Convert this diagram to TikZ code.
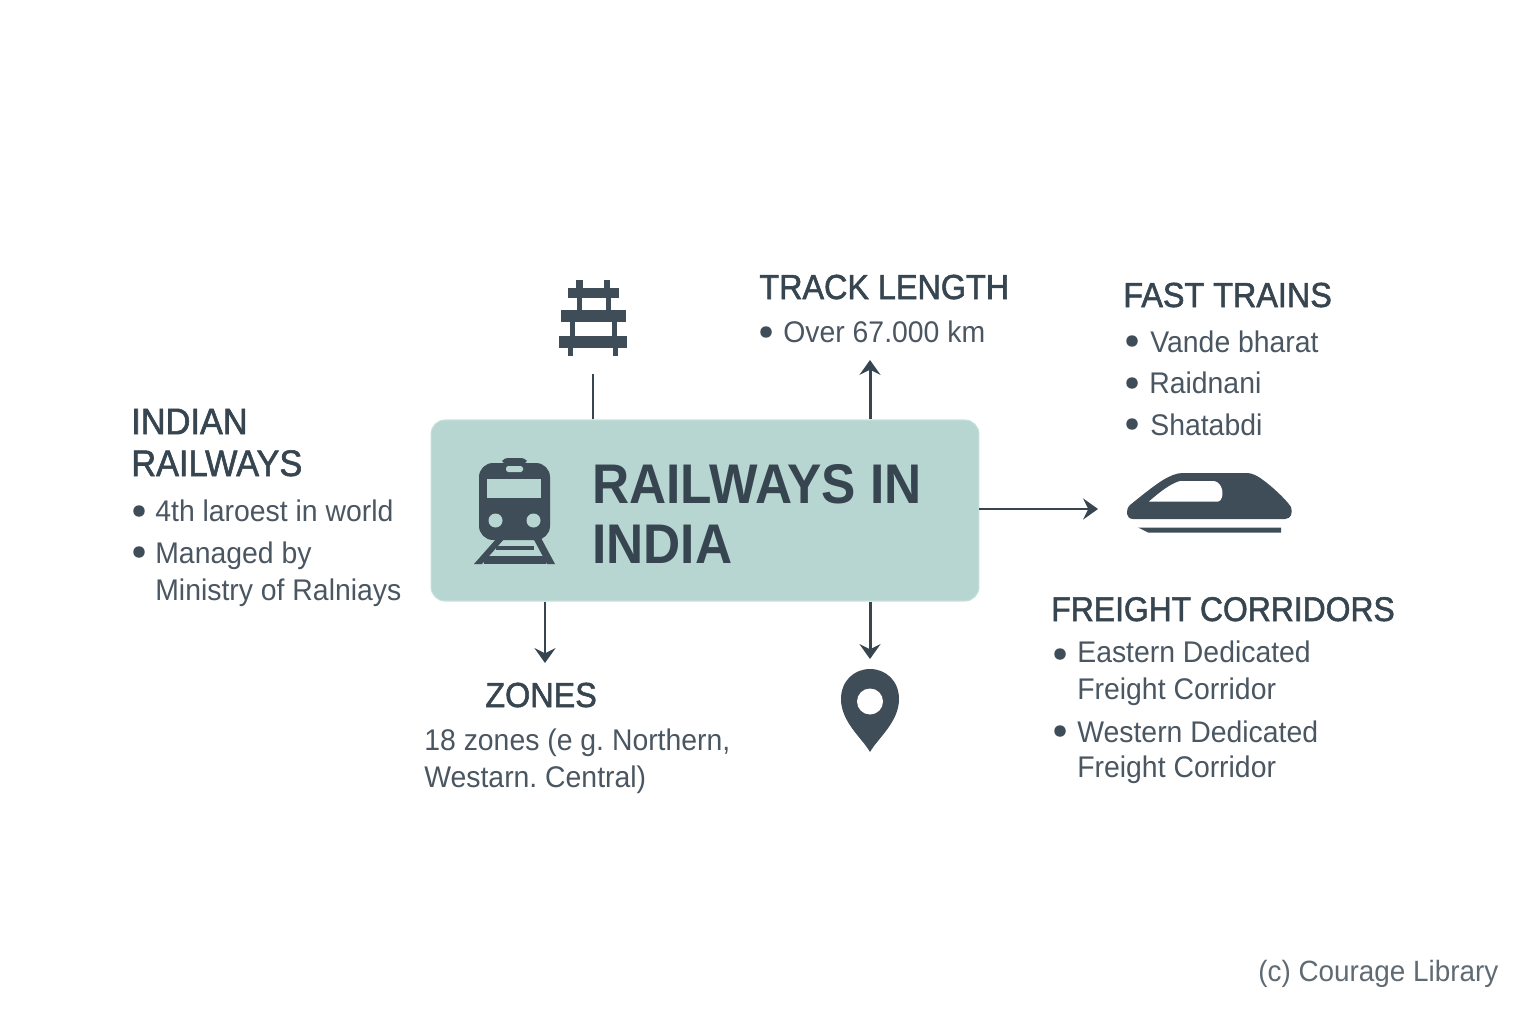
\documentclass[tikz,border=0pt]{standalone}
\usepackage{fontspec}
\setmainfont[FakeStretch=0.95]{Liberation Sans}
\newfontfamily\headfont[FakeBold=1.6,FakeStretch=0.93]{Liberation Sans}
\newfontfamily\titlefont[FakeStretch=0.92]{Liberation Sans}
\usetikzlibrary{arrows.meta,positioning}
\definecolor{inkdark}{HTML}{36454F}
\definecolor{inktext}{HTML}{4A5661}
\definecolor{iconfill}{HTML}{3F4D59}
\definecolor{boxfill}{HTML}{B7D5D1}
\definecolor{boxedge}{HTML}{C6E0DC}
\definecolor{credit}{HTML}{5F6A72}
\begin{document}
\frenchspacing
\begin{tikzpicture}
		[x=0.02cm,y=-0.02cm,
		mainbox/.style={rectangle,draw=boxedge,fill=boxfill,line width=0.6pt,rounded corners=8pt,
			inner sep=0pt,minimum width=10.96cm,minimum height=3.62cm},
		iconbox/.style={rectangle,inner sep=0pt,outer sep=0pt},
		title/.style={anchor=base west,inner sep=0pt,align=left,text=inkdark,
			font=\titlefont\bfseries\fontsize{31.8}{34}\selectfont},
		head/.style={anchor=base west,inner sep=0pt,align=left,text=inkdark,
			font=\headfont\fontsize{19.8}{23.8}\selectfont},
		body/.style={anchor=base west,inner sep=0pt,align=left,text=inktext,
			font=\fontsize{17}{21}\selectfont},
		bullet/.style={circle,fill=iconfill,inner sep=0pt,minimum size=0.23cm},
		conn/.style={draw=inkdark,line width=1.7pt},
		connarrow/.style={conn,-{Stealth[length=8.5pt,width=12pt,inset=3pt]}}]
		%---------------------fondo------------
		\path[use as bounding box] (0,0) rectangle (1536,1024);
		%---------------------caja central------------
		\node (main) at (705,510.5) [mainbox] {};
		\node (maintitle) at (592,563) [title] {RAILWAYS IN\\INDIA};
		% tren de la caja
		\fill[iconfill,rounded corners=2pt] (501,463)--(504,458)--(525,458)--(528,463)--cycle;
		\fill[iconfill,rounded corners=8pt] (479,463) rectangle (550,540);
		\fill[boxfill] (487,479) rectangle (541,498);
		\fill[boxfill,rounded corners=1pt] (506,466) rectangle (523,472);
		\fill[boxfill] (495.5,520.5) circle (7);
		\fill[boxfill] (533.5,520.5) circle (7);
		\fill[iconfill] (497,538)--(505,538)--(482,564)--(474,564)--cycle;
		\fill[iconfill] (533,538)--(541,538)--(555,564)--(547,564)--cycle;
		\fill[iconfill] (496,546) rectangle (534,550);
		\fill[iconfill] (484,556) rectangle (546,564);
		%---------------------iconos------------
		\node (railicon) at (593,318) [iconbox,minimum width=1.36cm,minimum height=1.52cm] {};
		\fill[iconfill] (576,280) rectangle (583,290);
		\fill[iconfill] (604,280) rectangle (610,290);
		\fill[iconfill] (568,288) rectangle (619,298);
		\fill[iconfill] (577,298) rectangle (582,310);
		\fill[iconfill] (606,298) rectangle (611,310);
		\fill[iconfill] (561,310) rectangle (626,322);
		\fill[iconfill] (570,322) rectangle (575,336);
		\fill[iconfill] (612,322) rectangle (617,336);
		\fill[iconfill] (559,336) rectangle (627,348);
		\fill[iconfill] (568,348) rectangle (573,356);
		\fill[iconfill] (613,348) rectangle (618,356);

		\node (pinicon) at (870,710) [iconbox,minimum width=1.16cm,minimum height=1.64cm] {};
		\fill[iconfill] (870,752) .. controls (862,738) and (841,722) .. (841,699)
			.. controls (841,681) and (854,669) .. (870,669)
			.. controls (886,669) and (899,681) .. (899,699)
			.. controls (899,722) and (878,738) .. (870,752)--cycle;
		\fill[white] (870,701.5) circle (13);

		\node (trainicon) at (1209,509) [iconbox,minimum width=3.32cm,minimum height=1.44cm] {};
		\fill[iconfill] (1133,519) -- (1285,519) .. controls (1291,519) and (1293,513) .. (1291,507)
			.. controls (1285,498) and (1270,485) .. (1263,480) .. controls (1258,476) and (1252,473) .. (1247,473)
			-- (1183,473) .. controls (1176,473) and (1170,476) .. (1163,480)
			.. controls (1152,487) and (1140,497) .. (1130,505) .. controls (1125,510) and (1126,519) .. (1133,519) -- cycle;
		\fill[white] (1149,501.5) .. controls (1160,492) and (1170,484) .. (1180,481) -- (1213,481)
			.. controls (1220,481) and (1224,490) .. (1222,497) .. controls (1221,500) and (1220,501.5) .. (1218,501.5) -- cycle;
		\fill[iconfill] (1138,527.5)--(1281,527.5)--(1281,532.5)--(1148,532.5)--cycle;
		%---------------------textos------------
		\node (indianhead) at (131,476) [head,font=\headfont\fontsize{21}{23.8}\selectfont] {INDIAN\\RAILWAYS};
		\node (indianbulletA) at (139,511) [bullet] {};
		\node (indiantextA) at (155,521) [body] {4th laroest in world};
		\node (indianbulletB) at (139,552) [bullet] {};
		\node (indiantextB) at (155,600) [body] {Managed by\\Ministry of Ralniays};

		\node (trackhead) at (759,299) [head] {TRACK LENGTH};
		\node (trackbullet) at (766,332) [bullet] {};
		\node (tracktext) at (783,342) [body] {Over 67.000 km};

		\node (fasthead) at (1123,307) [head] {FAST TRAINS};
		\node (fastbulletA) at (1132,341) [bullet] {};
		\node (fasttextA) at (1150,352) [body] {Vande bharat};
		\node (fastbulletB) at (1132,383) [bullet] {};
		\node (fasttextB) at (1149,393) [body] {Raidnani};
		\node (fastbulletC) at (1132,424) [bullet] {};
		\node (fasttextC) at (1150,435) [body] {Shatabdi};

		\node (freighthead) at (1051,621) [head,font=\headfont\fontsize{19.5}{23.8}\selectfont] {FREIGHT CORRIDORS};
		\node (freightbulletA) at (1060,654) [bullet] {};
		\node (freighttextA) at (1077,699) [body] {Eastern Dedicated\\[-0.5pt]Freight Corridor};
		\node (freightbulletB) at (1060,731) [bullet] {};
		\node (freighttextB) at (1077,777) [body] {Western Dedicated\\[-1.5pt]Freight Corridor};

		\node (zoneshead) at (485,707) [head] {ZONES};
		\node (zonestext) at (424,787) [body] {18 zones (e g. Northern,\\Westarn. Central)};

		\node (creditlabel) at (1258,981) [anchor=base west,inner sep=0pt,text=credit,font=\fontsize{16.7}{20}\selectfont] {(c) Courage Library};
		%---------------------conectores------------
		\coordinate (trackend) at (870,360);
		\coordinate (zonesend) at (545,663);
		\draw[conn,shorten >=0.36cm] (main.north -| railicon) -- (railicon.south);
		\draw[connarrow] (main.north -| trackend) -- (trackend);
		\draw[connarrow,shorten >=0.56cm] (main.east |- trainicon) -- (trainicon.west);
		\draw[connarrow] (main.south -| zonesend) -- (zonesend);
		\draw[connarrow,shorten >=0.2cm] (main.south -| pinicon) -- (pinicon.north);
\end{tikzpicture}
\end{document}
